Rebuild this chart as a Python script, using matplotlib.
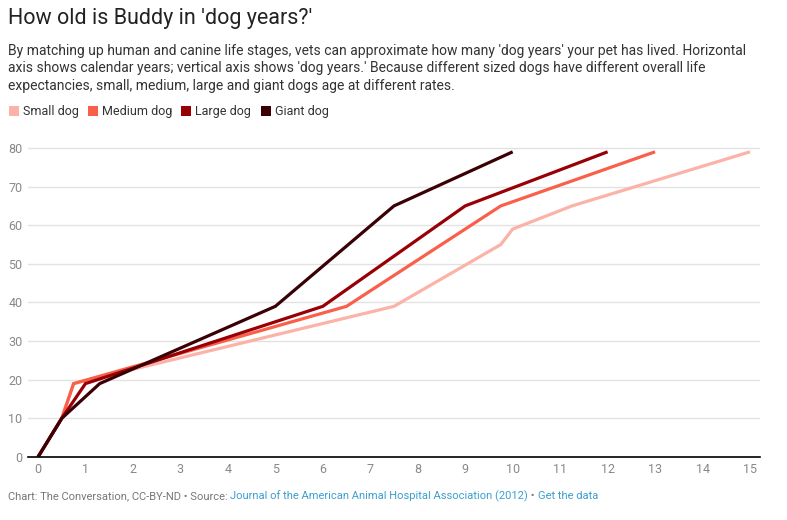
import matplotlib
matplotlib.use("Agg")
import matplotlib.pyplot as plt
from matplotlib.patches import Rectangle

plt.rcParams['font.family'] = ['Roboto', 'DejaVu Sans']

series_names = ["Small dog", "Medium dog", "Large dog", "Giant dog"]
series_colors = ["#fbb3a8", "#f8604a", "#980006", "#3a0005"]

small_x = [0, 0.5, 0.75, 7.5, 9.75, 10, 11.25, 15]
small_y = [0, 10, 19, 39, 55, 59, 65, 79]
medium_x = [0, 0.5, 0.75, 6.5, 9.75, 13]
medium_y = [0, 10, 19, 39, 65, 79]
large_x = [0, 0.5, 1, 6, 9, 12]
large_y = [0, 10, 19, 39, 65, 79]
giant_x = [0, 0.5, 1.3, 5, 7.5, 10]
giant_y = [0, 10, 19, 39, 65, 79]

xs = [small_x, medium_x, large_x, giant_x]
ys = [small_y, medium_y, large_y, giant_y]

x_ticks = list(range(0, 16))
y_ticks = [0, 10, 20, 30, 40, 50, 60, 70, 80]

title = "How old is Buddy in 'dog years?'"
subtitle = ("By matching up human and canine life stages, vets can approximate how many 'dog years' your pet has lived. Horizontal\n"
            "axis shows calendar years; vertical axis shows 'dog years.' Because different sized dogs have different overall life\n"
            "expectancies, small, medium, large and giant dogs age at different rates.")

W, H = 787, 520
fig = plt.figure(figsize=(W / 100, H / 100), dpi=100)
ax = fig.add_axes([28 / W, 1 - 457 / H, 732 / W, (457 - 132.5) / H])

for x, y, c in zip(xs, ys, series_colors):
    ax.plot(x, y, color=c, lw=2.3, solid_joinstyle='miter', solid_capstyle='butt', zorder=3)

ax.set_xlim(-10 / 47.47, 15 + 10 / 47.47)
ax.set_ylim(0, 84)
ax.set_xticks(x_ticks)
ax.set_yticks(y_ticks)
ax.grid(axis='y', color='#e2e2e2', lw=1, zorder=0)
ax.grid(axis='x', visible=False)
for s in ['top', 'right', 'left']:
    ax.spines[s].set_visible(False)
ax.spines['bottom'].set_color('#000000')
ax.spines['bottom'].set_linewidth(1.2)
ax.spines['bottom'].set_zorder(4)
ax.tick_params(axis='y', length=0, pad=4, labelsize=9, labelcolor='#888888')
ax.tick_params(axis='x', length=0, pad=4, labelsize=9, labelcolor='#888888')
for lbl in ax.get_yticklabels():
    lbl.set_horizontalalignment('right')

fig.text(8 / W, 1 - 8 / H, title, fontsize=15.5, color='#222222', va='top', ha='left')
fig.text(8 / W, 1 - 44 / H, subtitle, fontsize=10, color='#333333', va='top', ha='left', linespacing=1.3)

legend_x = [9, 88, 181, 261]
for lx, name, c in zip(legend_x, series_names, series_colors):
    fig.patches.append(Rectangle((lx / W, 1 - 116 / H), 10 / W, 10 / H, transform=fig.transFigure,
                                 facecolor=c, edgecolor='none'))
    fig.text((lx + 14) / W, 1 - 111.5 / H, name, fontsize=9, color='#333333', va='center', ha='left')

# footer
renderer = fig.canvas.get_renderer()
pieces = [("Chart: The Conversation, CC-BY-ND \u2022 Source: ", '#777777'),
          ("Journal of the American Animal Hospital Association (2012)", '#3b9fd0'),
          (" \u2022 ", '#777777'),
          ("Get the data", '#3b9fd0')]
xpos = 8
for txt, col in pieces:
    t = fig.text(xpos / W, 1 - 496 / H, txt, fontsize=8, color=col, va='center', ha='left')
    bb = t.get_window_extent(renderer=renderer)
    xpos += bb.width

fig.savefig("out.png", dpi=100)
